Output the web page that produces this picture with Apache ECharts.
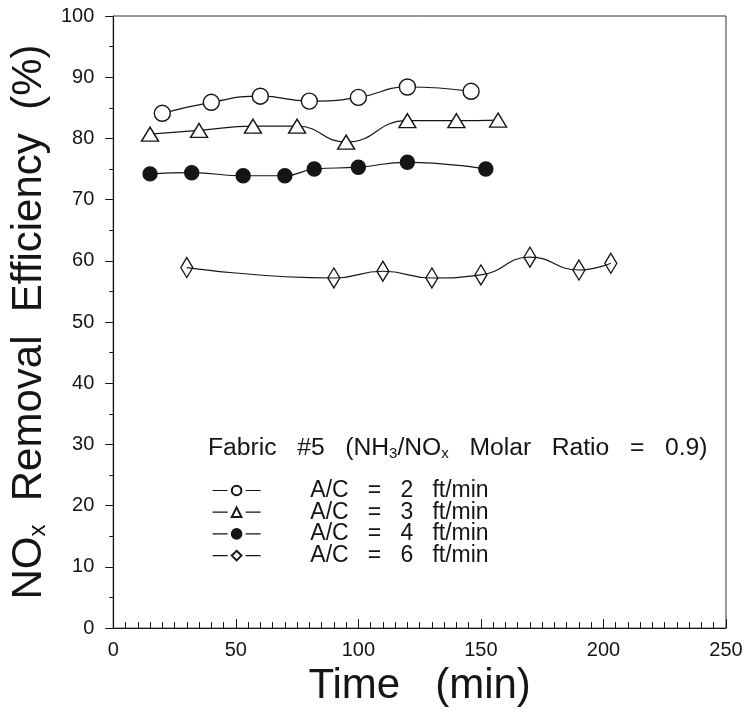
<!DOCTYPE html>
<html>
<head>
<meta charset="utf-8">
<script src="https://cdn.jsdelivr.net/npm/echarts@6/dist/echarts.min.js"></script>
<style>html,body{margin:0;padding:0;background:#fff}#c{width:749px;height:712px}</style>
</head>
<body>
<div id="c"></div>
<script>
// ---- data ----
const xTicks = [0, 50, 100, 150, 200, 250];
const yTicks = [0, 10, 20, 30, 40, 50, 60, 70, 80, 90, 100];
const seriesNames = ['A/C   =   2   ft/min', 'A/C   =   3   ft/min', 'A/C   =   4   ft/min', 'A/C   =   6   ft/min'];
const t2 = [20, 40, 60, 80, 100, 120, 146];
const v2 = [84.1, 85.9, 86.9, 86.1, 86.7, 88.4, 87.7];
const t3 = [15, 35, 57, 75, 95, 120, 140, 157];
const v3 = [80.7, 81.3, 82.0, 82.0, 79.4, 82.9, 82.9, 83.0];
const t4 = [15, 32, 53, 70, 82, 100, 120, 152];
const v4 = [74.2, 74.4, 73.9, 73.9, 75.0, 75.3, 76.1, 75.0];
const t6 = [30, 90, 110, 130, 150, 170, 190, 203];
const v6 = [58.9, 57.2, 58.3, 57.2, 57.7, 60.6, 58.5, 59.6];

const pairs = (t, v) => t.map((x, i) => [x, v[i]]);
const ink = '#151515';
const font = '"Liberation Sans", Arial, sans-serif';

const chart = echarts.init(document.getElementById('c'), null, {renderer: 'canvas'});

function mk(name, t, v, symbol, size, fill) {
  return {
    name: name, type: 'line', data: pairs(t, v), smooth: 0.5,
    symbol: symbol, symbolSize: size, showSymbol: true,
    lineStyle: {color: ink, width: 1.2},
    itemStyle: {color: fill, borderColor: ink, borderWidth: 1.4},
    emphasis: {disabled: true}, z: 3
  };
}

const option = {
  animation: false,
  backgroundColor: '#fff',
  textStyle: {fontFamily: font, color: ink},
  grid: {left: 113, right: 23, top: 16, bottom: 79, show: true, borderColor: '#333', borderWidth: 1},
  title: [{
    left: 203, top: 431,
    text: '{a|Fabric   #5   (NH}{s|3}{a|/NO}{s|x}{a|   Molar   Ratio   =   0.9)}',
    textStyle: {
      fontWeight: 'normal',
      rich: {
        a: {fontFamily: font, fontSize: 24.7, fontWeight: 'normal', color: ink},
        s: {fontFamily: font, fontSize: 15, fontWeight: 'normal', color: ink, verticalAlign: 'bottom', padding: [7, 0, 0, 0]}
      }
    }
  }],
  legend: {
    orient: 'vertical', left: 207, top: 474,
    itemWidth: 48, itemHeight: 12, itemGap: -1.3,
    data: seriesNames,
    formatter: n => '       ' + n,
    textStyle: {fontFamily: font, fontSize: 23, color: ink, lineHeight: 20.7},
    lineStyle: {type: [15, 18], width: 1.2, color: ink}
  },
  xAxis: {
    type: 'value', min: xTicks[0], max: xTicks[xTicks.length - 1], interval: 50,
    name: 'Time   (min)', nameLocation: 'middle', nameGap: 32,
    nameTextStyle: {fontFamily: font, fontSize: 42, color: ink},
    axisLine: {lineStyle: {color: ink, width: 1.2}},
    axisTick: {inside: true, length: 9, lineStyle: {color: ink}},
    minorTick: {show: true, splitNumber: 10, length: 6, lineStyle: {color: ink}},
    splitLine: {show: false},
    axisLabel: {fontFamily: font, fontSize: 20, color: ink, margin: 12}
  },
  yAxis: {
    type: 'value', min: yTicks[0], max: yTicks[yTicks.length - 1], interval: 10,
    name: '{a|NO}{s|x}{a|  Removal  Efficiency  (%)}', nameLocation: 'middle', nameGap: 58,
    nameTextStyle: {
      rich: {
        a: {fontFamily: font, fontSize: 42, color: ink},
        s: {fontFamily: font, fontSize: 24, color: ink, verticalAlign: 'bottom', padding: [14, 0, 0, 0]}
      }
    },
    axisLine: {lineStyle: {color: ink, width: 1.2}},
    axisTick: {inside: false, length: 8, lineStyle: {color: ink}},
    minorTick: {show: true, splitNumber: 2, length: 4, lineStyle: {color: ink}},
    splitLine: {show: false},
    axisLabel: {fontFamily: font, fontSize: 20, color: ink, margin: 19}
  },
  series: [
    mk(seriesNames[0], t2, v2, 'circle', 16, '#fff'),
    mk(seriesNames[1], t3, v3, 'triangle', [17, 14], '#fff'),
    mk(seriesNames[2], t4, v4, 'circle', 14, ink),
    mk(seriesNames[3], t6, v6, 'diamond', [12, 20], 'rgba(255,255,255,0)')
  ]
};
chart.setOption(option);
</script>
</body>
</html>
